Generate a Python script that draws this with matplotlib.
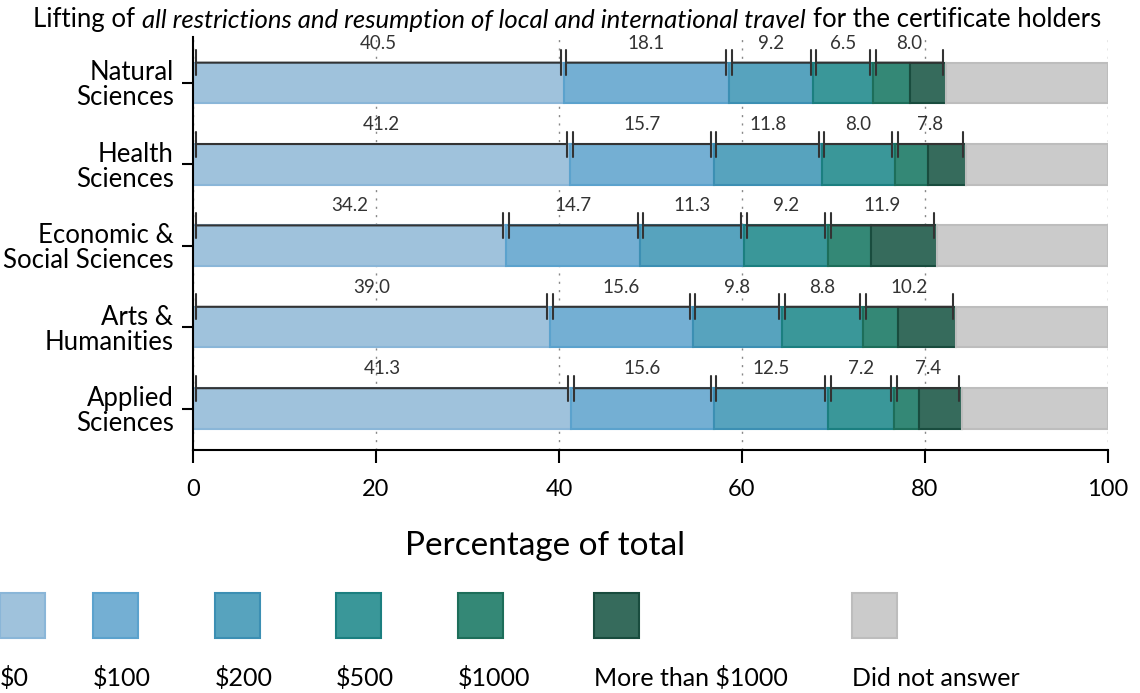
import numpy as np
import matplotlib
matplotlib.use("Agg")
import matplotlib.pyplot as plt
import matplotlib.patches as mpatches
from matplotlib.legend_handler import HandlerPatch

plt.rcParams['font.family'] = ['Lato', 'DejaVu Sans']

fields = ['Natural\nSciences', 'Health\nSciences', 'Economic &\nSocial Sciences',
          'Arts &\nHumanities', 'Applied\nSciences']
levels = ['$0', '$100', '$200', '$500', '$1000', 'More than $1000', 'Did not answer']

# percentages per field (top to bottom)
pct_0 = [40.5, 41.2, 34.2, 39.0, 41.3]
pct_100 = [18.1, 15.7, 14.7, 15.6, 15.6]
pct_200 = [9.2, 11.8, 11.3, 9.8, 12.5]
pct_500 = [6.5, 8.0, 9.2, 8.8, 7.2]
pct_1000 = [4.1, 3.6, 4.7, 3.8, 2.8]
pct_more = [3.9, 4.2, 7.2, 6.4, 4.6]
pct_none = [17.7, 15.5, 18.7, 16.6, 16.0]

colors = ['#9fc2dc', '#74afd3', '#57a3be', '#3a9799', '#348876', '#366b5c', '#cbcbcb']
edges = ['#8ab6d8', '#5ba2cd', '#3c8fb3', '#1b7f80', '#1d6e5a', '#194c3e', '#bdbdbd']

fig, ax = plt.subplots(figsize=(11.4, 6.93), dpi=100)
fig.subplots_adjust(left=0.1693, right=0.9719, bottom=0.3506, top=0.9466)

y = np.arange(len(fields))
series = [pct_0, pct_100, pct_200, pct_500, pct_1000, pct_more, pct_none]
left = np.zeros(len(fields))
for vals, lab, fc, ec in zip(series, levels, colors, edges):
    ax.barh(y, vals, left=left, height=0.5, color=fc, edgecolor=ec, lw=1.5,
            label=lab, zorder=2)
    left += np.array(vals)

# spans annotated above each bar (last two spending levels are combined)
spans = [pct_0, pct_100, pct_200, pct_500,
         [a + b for a, b in zip(pct_1000, pct_more)]]
for i in range(len(fields)):
    start = 0
    for s in spans:
        w = s[i]
        ax.annotate('', xy=(start, i - 0.25), xytext=(start + w, i - 0.25),
                    arrowprops=dict(arrowstyle='|-|,widthA=0.9,widthB=0.9',
                                    color='#333333', lw=1.5, shrinkA=2, shrinkB=2),
                    zorder=4)
        ax.text(start + w / 2, i - 0.49, f'{w:.1f}', ha='center', va='center',
                fontsize=13.5, color='#333333', zorder=4)
        start += w

ax.set_xlim(0, 100)
ax.set_ylim(4.51, -0.565)
ax.set_xticks([0, 20, 40, 60, 80, 100])
ax.set_yticks(y)
ax.set_yticklabels(fields, linespacing=1.0)
ax.xaxis.grid(True, linestyle=(0, (1.5, 4.5)), color='#888888', lw=1)
ax.set_axisbelow(True)
for sp in ['top', 'right']:
    ax.spines[sp].set_visible(False)
for sp in ['left', 'bottom']:
    ax.spines[sp].set_linewidth(1.5)
ax.tick_params(axis='x', length=9, width=1.5, labelsize=17, pad=12)
ax.tick_params(axis='y', length=8, width=1.5, labelsize=18.5, pad=6)
ax.set_xlabel('Percentage of total', fontsize=24, labelpad=22, x=0.385)

# title with italic middle part
t1 = fig.text(0.026, 0.961, 'Lifting of', fontsize=18.5, va='baseline')
t2 = ax.annotate('all restrictions and resumption of local and international travel',
                 xy=(1, 0), xycoords=t1, xytext=(5, 0), textcoords='offset points',
                 fontsize=18.5, style='italic', va='bottom', annotation_clip=False)
t3 = ax.annotate('for the certificate holders', xy=(1, 0), xycoords=t2, xytext=(5, 0),
                 textcoords='offset points', fontsize=18.5, va='bottom',
                 annotation_clip=False)
fig.canvas.draw()
r = fig.canvas.get_renderer()
x0 = t1.get_window_extent(r).x0
x1 = t3.get_window_extent(r).x1
shift = (567 - (x0 + x1) / 2) / fig.bbox.width
t1.set_x(t1.get_position()[0] + shift)


class HandlerPatchAbove(HandlerPatch):
    def create_artists(self, legend, orig_handle, xdescent, ydescent, width, height,
                       fontsize, trans):
        rect = mpatches.Rectangle((-xdescent, 35), width, width)
        self.update_prop(rect, orig_handle, legend)
        rect.set_transform(trans)
        return [rect]


fs = 18
patch_pts = 32.4
handles = [mpatches.Patch(facecolor=fc, edgecolor=ec, lw=1.5) for fc, ec in zip(colors, edges)]
fig.legend(handles, levels, loc='lower left', bbox_to_anchor=(0, 0.004), ncol=7,
           frameon=False, fontsize=fs, handlelength=patch_pts / fs, handleheight=0.7,
           handletextpad=-patch_pts / fs, columnspacing=2.55, borderpad=0,
           borderaxespad=0, handler_map={mpatches.Patch: HandlerPatchAbove()})

fig.savefig('out.png', dpi=100)
